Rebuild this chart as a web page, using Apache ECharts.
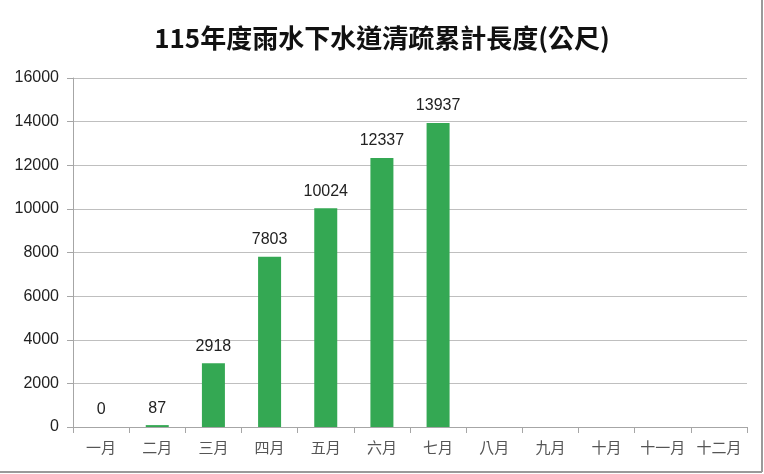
<!DOCTYPE html>
<html><head><meta charset="utf-8">
<script src="https://cdn.jsdelivr.net/npm/echarts@6/dist/echarts.min.js"></script>
<style>html,body{margin:0;padding:0;background:#fff}#c{width:764px;height:474px}</style>
</head><body><div id="c"></div>
<script>
const categories = ['一月','二月','三月','四月','五月','六月','七月','八月','九月','十月','十一月','十二月'];
const values = [0, 87, 2918, 7803, 10024, 12337, 13937, null, null, null, null, null];
const yTicks = { min: 0, max: 16000, interval: 2000 };
const titleText = '115年度雨水下水道清疏累計長度(公尺)';

const chart = echarts.init(document.getElementById('c'));
chart.setOption({
  animation: false,
  backgroundColor: '#fff',
  title: {
    text: titleText, left: 'center', top: 20,
    textStyle: { fontFamily: '"Noto Sans CJK TC", sans-serif', fontSize: 26, fontWeight: 'bold', color: '#111' }
  },
  grid: { left: 73, right: 17, top: 78, bottom: 47 },
  xAxis: {
    type: 'category', data: categories,
    axisLine: { lineStyle: { color: '#a6a6a6' } },
    axisTick: { show: true, length: 6, interval: 0, lineStyle: { color: '#a6a6a6' } },
    axisLabel: { color: '#555', fontSize: 15, margin: 13, interval: 0, hideOverlap: false, fontFamily: '"Noto Sans CJK TC", sans-serif' }
  },
  yAxis: {
    type: 'value', min: yTicks.min, max: yTicks.max, interval: yTicks.interval,
    axisLine: { show: true, lineStyle: { color: '#a6a6a6' } },
    axisTick: { show: true, length: 6, lineStyle: { color: '#a6a6a6' } },
    splitLine: { lineStyle: { color: '#bfbfbf' } },
    axisLabel: { color: '#222', fontSize: 16, margin: 14, formatter: v => String(v), fontFamily: '"Liberation Sans", Arial, sans-serif' }
  },
  series: [{
    type: 'bar', data: values, barWidth: 23,
    itemStyle: { color: '#34a853' },
    label: { show: true, position: 'top', distance: 9, color: '#222', fontSize: 16, fontFamily: '"Liberation Sans", Arial, sans-serif' }
  }],
  graphic: [
    { type: 'line', shape: { x1: 762, y1: 0, x2: 762, y2: 472 }, style: { stroke: '#9a9a9a', lineWidth: 2 } },
    { type: 'line', shape: { x1: 0, y1: 472, x2: 762, y2: 472 }, style: { stroke: '#9a9a9a', lineWidth: 2 } }
  ]
});
</script></body></html>
